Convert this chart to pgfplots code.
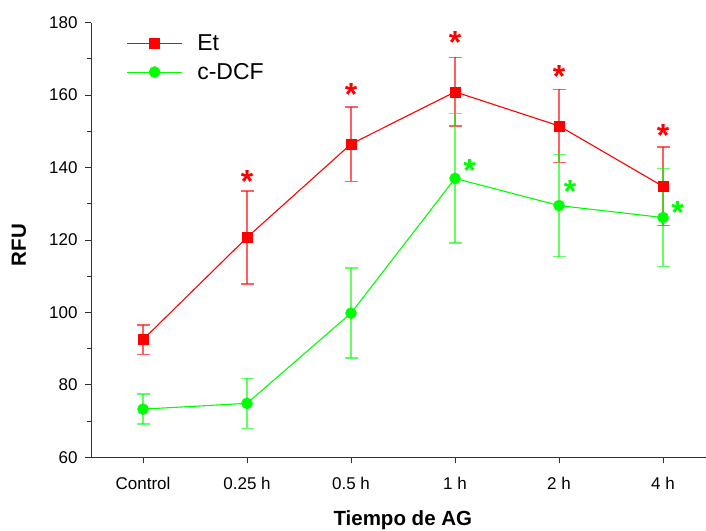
\documentclass[border=0pt]{standalone}
\usepackage{pgfplots}
\pgfplotsset{compat=1.18}
\usepackage{fontspec}
\setmainfont{Liberation Sans}
\definecolor{myred}{RGB}{255,0,0}
\definecolor{mygreen}{RGB}{0,255,0}
\begin{document}
\begin{tikzpicture}
\begin{axis}[
  at={(0,0)}, anchor=south west,
  scale only axis, width=615pt, height=434.6pt,
  xmin=-0.5, xmax=5.413, ymin=60, ymax=180,
  axis x line*=bottom, axis y line*=left,
  axis line style={draw=black!80, line width=0.9pt},
  xtick={0,...,5}, xticklabels={Control,0.25 h,0.5 h,1 h,2 h,4 h},
  ytick={60,80,...,180}, minor ytick={70,90,...,170},
  tick align=outside, major tick length=6pt, minor tick length=4pt,
  tick style={black!80, line width=0.9pt},
  ticklabel style={font=\fontsize{17}{20}\selectfont},
  xticklabel style={yshift=-10pt},
  yticklabel style={xshift=-4pt},
  /pgf/number format/assume math mode=true,
  xlabel={Tiempo de AG}, ylabel={RFU},
  label style={font=\fontsize{20.5}{24}\selectfont\bfseries},
  xlabel style={at={(axis description cs:0.507,-0.158)}, anchor=base},
  ylabel style={at={(axis description cs:-0.117,0.4885)}, anchor=center},
  legend style={draw=none, fill=none, at={(axis description cs:0.0574,0.919)}, anchor=west,
    font=\fontsize{23}{27}\selectfont, inner sep=0pt, nodes={inner xsep=7.7pt, inner ysep=5.5pt}, row sep=0pt},
  legend cell align=left,
  legend image code/.code={\draw[mark repeat=2,mark phase=2,#1] plot coordinates {(0pt,0pt) (27.5pt,0pt) (55pt,0pt)};},
]
\addplot[myred, line width=1.1pt, mark=square*, mark size=5pt, mark options={fill=myred, draw=myred, line width=0.3pt},
  error bars/.cd, y dir=both, y explicit,
  error bar style={myred, opacity=0.62, line width=1.6pt},
  error mark options={myred, opacity=0.62, line width=1.6pt, mark size=6.5pt, rotate=90}]
coordinates {
(0,92.5) +- (0,4.1)
(1,120.7) +- (0,12.9)
(2,146.5) +- (0,10.3)
(3,160.9) +- (0,9.5)
(4,151.5) +- (0,10.1)
(5,134.8) +- (0,10.8)
};
\addlegendentry{\hspace{7pt}Et}
\addplot[mygreen, line width=1.1pt, mark=*, mark size=5.6pt, mark options={fill=mygreen, draw=mygreen, line width=0.3pt},
  error bars/.cd, y dir=both, y explicit,
  error bar style={mygreen, opacity=0.62, line width=1.6pt},
  error mark options={mygreen, opacity=0.62, line width=1.6pt, mark size=6.5pt, rotate=90}]
coordinates {
(0,73.3) +- (0,4.1)
(1,74.9) +- (0,6.9)
(2,99.8) +- (0,12.4)
(3,137.0) +- (0,17.9)
(4,129.5) +- (0,14.1)
(5,126.2) +- (0,13.5)
};
\addlegendentry{\hspace{7pt}c-DCF}
\tikzset{ast/.style={anchor=north, inner sep=0pt, font=\fontsize{32}{36}\selectfont\bfseries}}
\node[ast, text=myred] at (axis cs:1,139.3) {*};
\node[ast, text=myred] at (axis cs:2,163.4) {*};
\node[ast, text=myred] at (axis cs:3,177.5) {*};
\node[ast, text=myred] at (axis cs:4,168.3) {*};
\node[ast, text=myred] at (axis cs:5,152.0) {*};
\node[ast, text=mygreen] at (axis cs:3.14,142.3) {*};
\node[ast, text=mygreen] at (axis cs:4.106,136.4) {*};
\node[ast, text=mygreen] at (axis cs:5.14,130.8) {*};
\end{axis}
\pgfresetboundingbox
\path[use as bounding box] (-91pt,-72.7pt) rectangle (615pt,457.3pt);
\end{tikzpicture}
\end{document}
